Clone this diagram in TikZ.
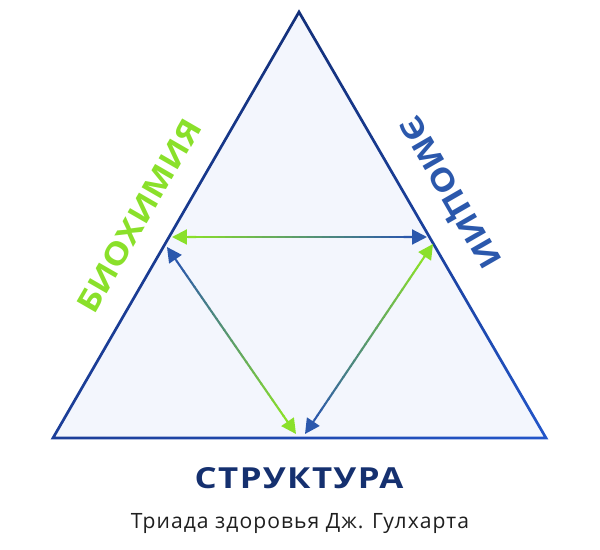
\documentclass[tikz,border=0pt]{standalone}
\usepackage{fontspec}
\setmainfont{Open Sans}
\newfontfamily\headfont{Open Sans}[FakeStretch=1.2,LetterSpace=5]
\newfontfamily\sidefont{Open Sans}[FakeStretch=1.15]
\newfontfamily\subfont{Open Sans}[LetterSpace=5]
\usetikzlibrary{arrows.meta,calc,shadings}
\definecolor{navy}{HTML}{13307A}
\definecolor{navymid}{HTML}{1C3E98}
\definecolor{edgeblue}{HTML}{2356CA}
\definecolor{trifill}{HTML}{F3F6FD}
\definecolor{biogreen}{HTML}{8AE02A}
\definecolor{emoblue}{HTML}{2B58AC}
\definecolor{strnavy}{HTML}{15306F}
\newcommand{\gradline}[5]{%
  \foreach \k in {0,...,29}{
    \pgfmathtruncatemacro\mix{100-\k*100/29}
    \draw[line width=#5, #3!\mix!#4] ($(#1)!{\k/30}!(#2)$) -- ($(#1)!{(\k+1.1)/30}!(#2)$);
  }}
\newcommand{\gradarrow}[4]{%
  \coordinate (ga) at ($(#1)!9pt!(#2)$);
  \coordinate (gb) at ($(#2)!9pt!(#1)$);
  \gradline{ga}{gb}{#3}{#4}{1.2pt}
  \draw[tip, #3] (ga) -- (#1);
  \draw[tip, #4] (gb) -- (#2);
}

\begin{document}
\begin{tikzpicture}[x=0.02cm, y=-0.02cm,
    tip/.style={line width=1.2pt, -{Triangle[length=8.5pt,width=8.5pt]}},
    head/.style={font=\headfont\bfseries\fontsize{16.5}{16.5}\selectfont},
    side/.style={font=\sidefont\bfseries\fontsize{17.5}{17.5}\selectfont}]
	\useasboundingbox (0,0) rectangle (600,550);
	\coordinate (top) at (299,12);
	\coordinate (bl) at (53,438);
	\coordinate (br) at (546,438);
	\coordinate (inc) at (299,295.8);
	\fill[trifill] (top) -- (bl) -- (br) -- cycle;
	\shade[even odd rule, upper left=navy, upper right=navy, lower left=navymid, lower right=edgeblue]
		($(inc)!1.0095!(top)$) -- ($(inc)!1.0095!(bl)$) -- ($(inc)!1.0095!(br)$) -- cycle
		($(inc)!0.9905!(top)$) -- ($(inc)!0.9905!(bl)$) -- ($(inc)!0.9905!(br)$) -- cycle;
	\coordinate (hl) at (172,237);
	\coordinate (hr) at (427,237);
	\coordinate (ltop) at (167,247);
	\coordinate (lbot) at (296,434);
	\coordinate (rbot) at (305,434);
	\coordinate (rtop) at (433,244);
	\gradarrow{hl}{hr}{biogreen}{emoblue}
	\gradarrow{ltop}{lbot}{emoblue}{biogreen}
	\gradarrow{rbot}{rtop}{emoblue}{biogreen}
	\node[side, rotate=60, text=biogreen] (bio) at (139,216) {БИОХИМИЯ};
	\node[side, rotate=-60, text=emoblue] (emo) at (448,194) {ЭМОЦИИ};
	\node[head, text=strnavy, anchor=base] (str) at (299,489) {СТРУКТУРА};
	\node[font=\subfont\fontsize{12}{12}\selectfont, text=black!88, anchor=base] (cap) at (300,529) {Триада здоровья Дж. Гулхарта};
\end{tikzpicture}
\end{document}
